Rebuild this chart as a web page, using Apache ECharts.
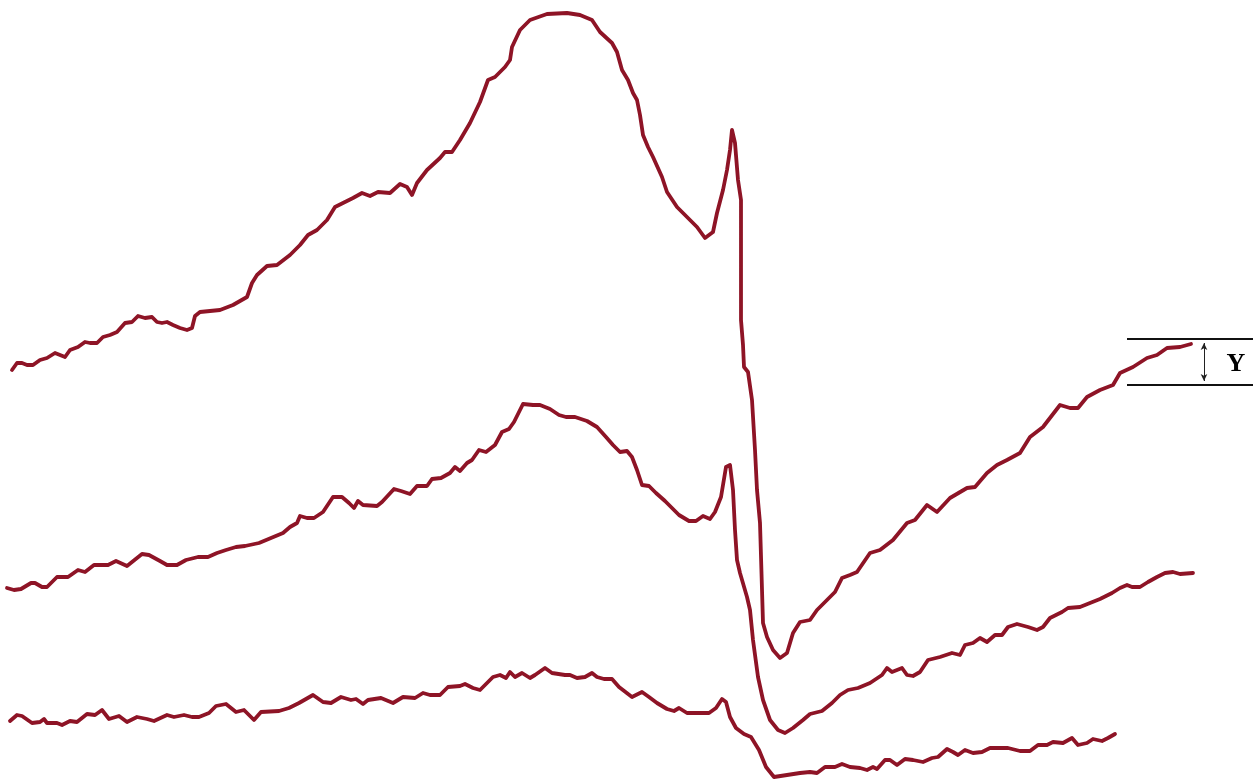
<!DOCTYPE html>
<html>
<head>
<meta charset="utf-8">
<script src="https://cdn.jsdelivr.net/npm/echarts@6/dist/echarts.min.js"></script>
<style>html,body{margin:0;padding:0;background:#fff;}#c{width:1260px;height:782px;}</style>
</head>
<body>
<div id="c"></div>
<script>
// Traces: [x, depth] (depth grows downwards)
var curveTop = [[12,370],[17,363],[22,363],[27,365],[33,365],[40,360],[47,358],[55,353],[60,355],[65,357],[70,350],[78,347],[85,342],[90,343],[97,343],[103,337],[110,335],[117,332],[125,323],[132,322],[138,316],[145,318],[152,317],[157,322],[162,323],[167,322],[173,325],[180,328],[187,330],[192,328],[195,316],[200,312],[220,310],[233,305],[247,297],[252,283],[257,275],[267,266],[277,265],[290,255],[300,245],[308,235],[317,230],[327,220],[335,207],[343,203],[353,198],[362,193],[370,196],[378,192],[390,193],[400,184],[407,187],[412,195],[417,183],[427,170],[440,158],[445,152],[452,152],[460,140],[470,123],[480,102],[488,80],[495,77],[505,67],[510,60],[512,47],[520,30],[530,20],[547,14],[567,13],[580,15],[592,20],[600,32],[612,43],[617,52],[622,70],[628,80],[633,93],[637,100],[640,115],[643,135],[648,147],[653,157],[662,177],[667,192],[677,207],[687,217],[697,227],[705,238],[713,232],[717,213],[723,190],[727,170],[730,150],[732,130],[735,143],[738,180],[741,200],[741,320],[743,345],[744,367],[748,372],[752,400],[755,450],[757,490],[760,523],[763,623],[767,637],[773,650],[780,658],[787,653],[793,633],[800,622],[810,620],[817,610],[827,600],[835,592],[842,578],[850,575],[857,572],[870,553],[880,550],[893,540],[907,523],[915,520],[927,505],[937,512],[950,498],[967,488],[975,487],[987,473],[997,465],[1007,460],[1020,453],[1030,437],[1043,427],[1060,405],[1070,408],[1078,408],[1087,397],[1100,390],[1113,385],[1120,373],[1133,367],[1147,358],[1157,355],[1167,348],[1180,347],[1191,344]];

var curveMid = [[7,588],[14,590],[21,589],[31,583],[35,583],[42,587],[47,587],[57,577],[68,577],[78,570],[85,572],[94,565],[108,565],[116,561],[127,566],[142,554],[149,555],[160,561],[167,565],[177,565],[186,560],[198,557],[208,557],[217,553],[226,550],[236,547],[245,546],[259,543],[271,538],[283,533],[290,527],[297,523],[300,516],[307,518],[314,518],[323,512],[333,497],[342,497],[349,503],[354,508],[358,501],[363,505],[377,506],[382,502],[394,489],[401,491],[410,494],[417,486],[427,486],[432,479],[441,478],[450,473],[455,467],[460,471],[467,463],[472,460],[479,450],[486,452],[495,445],[502,432],[509,429],[514,422],[523,404],[533,405],[540,405],[550,409],[559,415],[566,417],[575,417],[587,421],[597,427],[606,437],[613,445],[620,452],[627,451],[632,457],[637,470],[642,485],[649,486],[656,493],[665,501],[672,508],[679,515],[689,521],[696,521],[703,516],[710,519],[715,512],[721,497],[726,467],[730,465],[733,490],[735,530],[737,560],[740,573],[747,597],[750,610],[753,640],[758,677],[763,700],[770,720],[778,730],[785,733],[793,728],[803,720],[810,714],[822,711],[832,703],[840,695],[848,690],[858,688],[870,683],[882,675],[887,668],[892,672],[902,668],[907,675],[913,676],[920,672],[928,660],[940,657],[952,653],[960,655],[965,645],[973,643],[980,638],[987,642],[995,635],[1002,635],[1008,627],[1017,624],[1028,627],[1037,630],[1043,627],[1050,618],[1062,612],[1068,608],[1080,607],[1090,603],[1100,599],[1112,593],[1120,588],[1127,585],[1132,587],[1140,587],[1148,582],[1157,577],[1165,573],[1173,572],[1180,574],[1193,573]];

var curveLow = [[10,721],[17,715],[22,716],[32,723],[40,722],[44,719],[47,723],[57,723],[62,725],[70,721],[77,722],[87,714],[95,715],[102,710],[109,719],[119,716],[127,722],[137,717],[147,719],[154,721],[167,715],[174,717],[184,715],[192,717],[199,717],[209,713],[216,706],[226,704],[236,712],[244,710],[254,720],[261,712],[279,711],[289,708],[299,703],[313,695],[323,702],[331,703],[341,697],[351,700],[356,699],[363,704],[368,700],[381,698],[393,703],[403,697],[415,698],[423,693],[430,695],[440,695],[448,687],[460,686],[465,684],[473,688],[480,690],[493,677],[500,675],[506,678],[510,672],[515,677],[522,673],[530,678],[535,675],[545,668],[552,673],[565,675],[570,675],[577,678],[585,677],[592,673],[597,677],[604,679],[612,679],[619,687],[632,697],[642,692],[649,697],[657,703],[667,709],[674,711],[679,708],[687,713],[697,713],[709,713],[716,708],[722,699],[726,702],[730,717],[736,728],[744,734],[751,737],[759,750],[766,767],[774,777],[787,775],[800,773],[810,772],[817,773],[825,767],[835,767],[842,764],[850,767],[860,768],[867,770],[873,767],[877,769],[885,760],[890,760],[897,765],[905,759],[913,760],[923,762],[932,758],[938,757],[947,749],[953,752],[958,755],[965,750],[973,753],[982,752],[990,748],[998,748],[1008,748],[1020,751],[1030,751],[1038,745],[1047,745],[1053,742],[1063,743],[1072,738],[1078,745],[1087,743],[1093,739],[1102,741],[1108,738],[1115,734]];

// "Y" amplitude marker
var bandTop = [[1127,339],[1253,339]];
var bandBottom = [[1127,385],[1253,385]];
var arrowSpan = [[1204,343],[1204,381]];
var labelPos = [1236,364];
var labelText = 'Y';

var curveColor = '#8e1426';
function traceSeries(data){
  return {type:'line', data:data, showSymbol:false, symbol:'none', smooth:false, clip:false,
    lineStyle:{color:curveColor, width:3.8, join:'round', cap:'round'}, silent:true, z:3};
}
var chart = echarts.init(document.getElementById('c'));
chart.setOption({
  animation:false,
  backgroundColor:'#fff',
  grid:{left:0,right:0,top:0,bottom:0},
  xAxis:{type:'value', min:0, max:1260, show:false},
  yAxis:{type:'value', min:0, max:782, inverse:true, show:false},
  series:[
    traceSeries(curveTop),
    traceSeries(curveMid),
    traceSeries(curveLow),
    {type:'line', data:bandTop, symbol:'none', lineStyle:{color:'#111', width:1.8}, silent:true},
    {type:'line', data:bandBottom, symbol:'none', lineStyle:{color:'#111', width:1.8}, silent:true},
    {type:'line', data:[], silent:true,
      markLine:{silent:true, symbol:['arrow','arrow'], symbolSize:[5,7],
        lineStyle:{color:'#222', width:1, type:'solid'}, label:{show:false},
        emphasis:{disabled:true},
        data:[[{coord:arrowSpan[0]},{coord:arrowSpan[1]}]]}}
  ]
});
var p = chart.convertToPixel({gridIndex:0}, labelPos);
chart.setOption({
  graphic:[{type:'text', x:p[0], y:p[1], silent:true,
    style:{text:labelText, fill:'#000', font:'bold 26px "Liberation Serif"', align:'center', verticalAlign:'middle'}}]
});
</script>
</body>
</html>
